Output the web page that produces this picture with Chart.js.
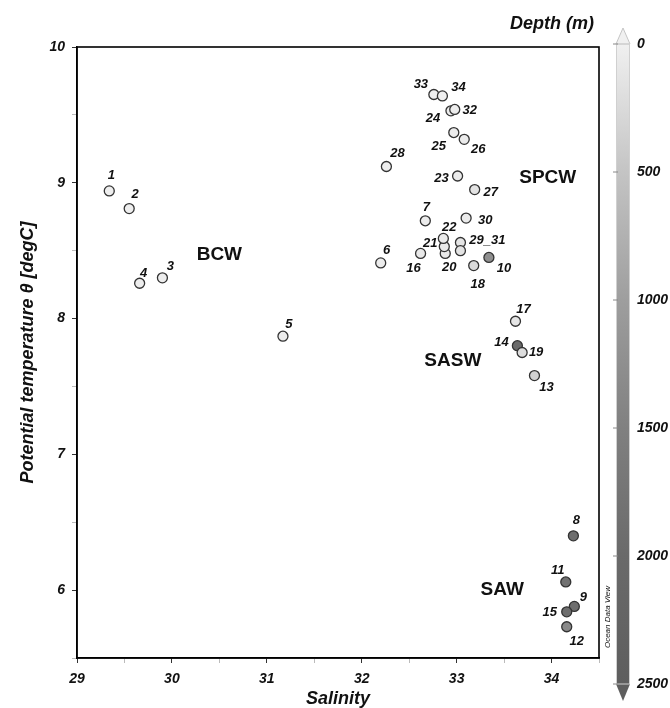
<!DOCTYPE html>
<html>
<head>
<meta charset="utf-8">
<script src="https://cdn.jsdelivr.net/npm/chart.js@4.4.0/dist/chart.umd.min.js"></script>
<style>
  html, body { margin: 0; padding: 0; background: #fff; }
</style>
</head>
<body>
<canvas id="ts-chart" width="670" height="708"></canvas>
<script>
// Station data
const stations = ['1','2','3','4','5','6','7','8','9','10','11','12','13','14','15','16','17',
                  '18','19','20','21','22','23','24','25','26','27','28','29_31','30','','32','33','34'];
const salinity = [29.34, 29.55, 29.90, 29.66, 31.17, 32.20, 32.67, 34.23, 34.24, 33.34, 34.15, 34.16,
                  33.82, 33.64, 34.16, 32.62, 33.62, 33.18, 33.69, 32.88, 32.87, 32.86, 33.01, 32.94,
                  32.97, 33.08, 33.19, 32.26, 33.04, 33.10, 33.04, 32.98, 32.76, 32.85];
const theta = [8.94, 8.81, 8.30, 8.26, 7.87, 8.41, 8.72, 6.40, 5.88, 8.45, 6.06, 5.73,
               7.58, 7.80, 5.84, 8.48, 7.98, 8.39, 7.75, 8.48, 8.53, 8.59, 9.05, 9.53,
               9.37, 9.32, 8.95, 9.12, 8.56, 8.74, 8.50, 9.54, 9.65, 9.64];
const depth = [20, 20, 30, 30, 50, 50, 60, 1900, 1900, 1250, 1850, 1350, 350, 2000, 1900, 80, 120,
               250, 220, 80, 80, 60, 60, 40, 40, 60, 150, 30, 120, 60, 150, 40, 10, 10];

const waterMasses = ['BCW', 'SPCW', 'SASW', 'SAW'];
const waterMassSal = [30.50, 33.96, 32.96, 33.48];
const waterMassTheta = [8.47, 9.04, 7.69, 6.00];

const depthTicks = [0, 500, 1000, 1500, 2000, 2500];

// label offsets in pixels from each point (layout only)
const labelOffsets = [[2,-16],[6,-14],[8,-11],[4,-10],[6,-12],[6,-12],[1,-13],[3,-15],[9,-9],[15,11],
                      [-8,-12],[10,15],[12,12],[-16,-3],[-17,1],[-7,15],[8,-12],[4,19],[14,0],[4,14],
                      [-14,-3],[6,-11],[-16,2],[-18,8],[-15,14],[14,10],[16,3],[11,-13],[27,-2],[19,2],
                      [0,0],[15,1],[-13,-10],[16,-8]];

// grey ramp used for depth
const rampStops = [[0, 240], [500, 196], [1000, 158], [1500, 128], [2000, 106], [2500, 94]];

function depthGrey(d) {
    for (let i = 1; i < rampStops.length; i++) {
        const [d0, g0] = rampStops[i - 1];
        const [d1, g1] = rampStops[i];
        if (d <= d1) {
            const g = Math.round(g0 + (g1 - g0) * (d - d0) / (d1 - d0));
            return `rgb(${g},${g},${g})`;
        }
    }
    const g = rampStops[rampStops.length - 1][1];
    return `rgb(${g},${g},${g})`;
}

const fontFamily = '"Liberation Sans", Arial, sans-serif';
const tickFont = { family: fontFamily, size: 14, weight: 'bold', style: 'italic' };

const cbar = { left: 616, right: 630, top: 44, bottom: 684 };

const overlayPlugin = {
    id: 'overlay',
    afterDatasetsDraw(chart) {
        const ctx = chart.ctx;
        const area = chart.chartArea;
        const xs = chart.scales.x;
        const ys = chart.scales.y;
        const meta = chart.getDatasetMeta(0);

        ctx.save();
        // station numbers
        ctx.font = `italic bold 13px ${fontFamily}`;
        ctx.fillStyle = '#111';
        ctx.textAlign = 'center';
        ctx.textBaseline = 'middle';
        meta.data.forEach((pt, i) => {
            if (!stations[i]) return;
            const [dx, dy] = labelOffsets[i];
            ctx.fillText(stations[i], pt.x + dx, pt.y + dy);
        });

        // water mass names
        ctx.font = `bold 19px ${fontFamily}`;
        waterMasses.forEach((name, i) => {
            ctx.fillText(name, xs.getPixelForValue(waterMassSal[i]), ys.getPixelForValue(waterMassTheta[i]));
        });

        // frame
        ctx.strokeStyle = '#000';
        ctx.lineWidth = 1.6;
        ctx.strokeRect(area.left, area.top, area.right - area.left, area.bottom - area.top);
        ctx.restore();
    },
    afterDraw(chart) {
        const ctx = chart.ctx;
        const span = cbar.bottom - cbar.top;
        const maxD = depthTicks[depthTicks.length - 1];
        const yFor = d => cbar.top + span * d / maxD;
        const mid = (cbar.left + cbar.right) / 2;

        ctx.save();
        const grad = ctx.createLinearGradient(0, cbar.top, 0, cbar.bottom);
        rampStops.forEach(([d]) => grad.addColorStop(d / maxD, depthGrey(d)));
        ctx.fillStyle = grad;
        ctx.fillRect(cbar.left, cbar.top, cbar.right - cbar.left, span);

        // end arrows
        ctx.beginPath();
        ctx.moveTo(cbar.left, cbar.top);
        ctx.lineTo(mid, cbar.top - 16);
        ctx.lineTo(cbar.right, cbar.top);
        ctx.closePath();
        ctx.fillStyle = depthGrey(0);
        ctx.fill();
        ctx.strokeStyle = '#c4c4c4';
        ctx.lineWidth = 1;
        ctx.stroke();

        ctx.beginPath();
        ctx.moveTo(cbar.left, cbar.bottom);
        ctx.lineTo(mid, cbar.bottom + 17);
        ctx.lineTo(cbar.right, cbar.bottom);
        ctx.closePath();
        ctx.fillStyle = depthGrey(maxD);
        ctx.fill();

        ctx.strokeStyle = '#d0d0d0';
        ctx.strokeRect(cbar.left + 0.5, cbar.top, cbar.right - cbar.left - 1, span);

        // ticks + labels
        ctx.font = `italic bold 14px ${fontFamily}`;
        ctx.fillStyle = '#111';
        ctx.textAlign = 'left';
        ctx.textBaseline = 'middle';
        depthTicks.forEach(d => {
            const y = yFor(d);
            ctx.strokeStyle = '#888';
            ctx.beginPath();
            ctx.moveTo(cbar.left - 3, y);
            ctx.lineTo(cbar.left + 2, y);
            ctx.stroke();
            ctx.fillText(String(d), cbar.right + 7, y);
        });

        // colour bar title
        ctx.font = `italic bold 18px ${fontFamily}`;
        ctx.textAlign = 'right';
        ctx.fillText('Depth (m)', 594, 24);

        // ODV stamp
        ctx.translate(608, 617);
        ctx.rotate(-Math.PI / 2);
        ctx.font = `italic 8px ${fontFamily}`;
        ctx.textAlign = 'center';
        ctx.fillText('Ocean Data View', 0, 0);
        ctx.restore();
    }
};

const points = salinity.map((s, i) => ({ x: s, y: theta[i] }));

new Chart(document.getElementById('ts-chart'), {
    type: 'scatter',
    data: {
        datasets: [{
            data: points,
            pointRadius: 5,
            pointHoverRadius: 5,
            pointBackgroundColor: depth.map(depthGrey),
            pointBorderColor: '#333',
            pointBorderWidth: 1.3
        }]
    },
    options: {
        responsive: false,
        animation: false,
        events: [],
        layout: { padding: { top: 47, right: 71, bottom: 0, left: 0 } },
        plugins: {
            legend: { display: false },
            tooltip: { enabled: false }
        },
        scales: {
            x: {
                type: 'linear',
                min: 29,
                max: 34.5,
                afterFit: s => { s.height = 50; },
                ticks: {
                    stepSize: 0.5,
                    autoSkip: false,
                    maxRotation: 0,
                    padding: 8,
                    color: '#111',
                    font: tickFont,
                    callback: v => Number.isInteger(v) ? v : ''
                },
                grid: {
                    drawOnChartArea: false,
                    tickLength: 5,
                    tickColor: c => Number.isInteger(c.tick.value) ? '#333' : '#bbb'
                },
                border: { color: '#000', width: 1.5 },
                title: {
                    display: true,
                    text: 'Salinity',
                    color: '#111',
                    padding: 0,
                    font: { family: fontFamily, size: 18, weight: 'bold', style: 'italic', lineHeight: 1 }
                }
            },
            y: {
                type: 'linear',
                min: 5.5,
                max: 10,
                afterFit: s => { s.width = 77; },
                ticks: {
                    stepSize: 0.5,
                    autoSkip: false,
                    padding: 7,
                    color: '#111',
                    font: tickFont,
                    callback: v => (Number.isInteger(v) ? v : '')
                },
                grid: {
                    drawOnChartArea: false,
                    tickLength: 5,
                    tickColor: c => Number.isInteger(c.tick.value) ? '#333' : '#bbb'
                },
                border: { color: '#000', width: 1.5 },
                title: {
                    display: true,
                    text: 'Potential temperature θ [degC]',
                    color: '#111',
                    padding: { top: 19, bottom: 0 },
                    font: { family: fontFamily, size: 18, weight: 'bold', style: 'italic', lineHeight: 1 }
                }
            }
        }
    },
    plugins: [overlayPlugin]
});
</script>
</body>
</html>
